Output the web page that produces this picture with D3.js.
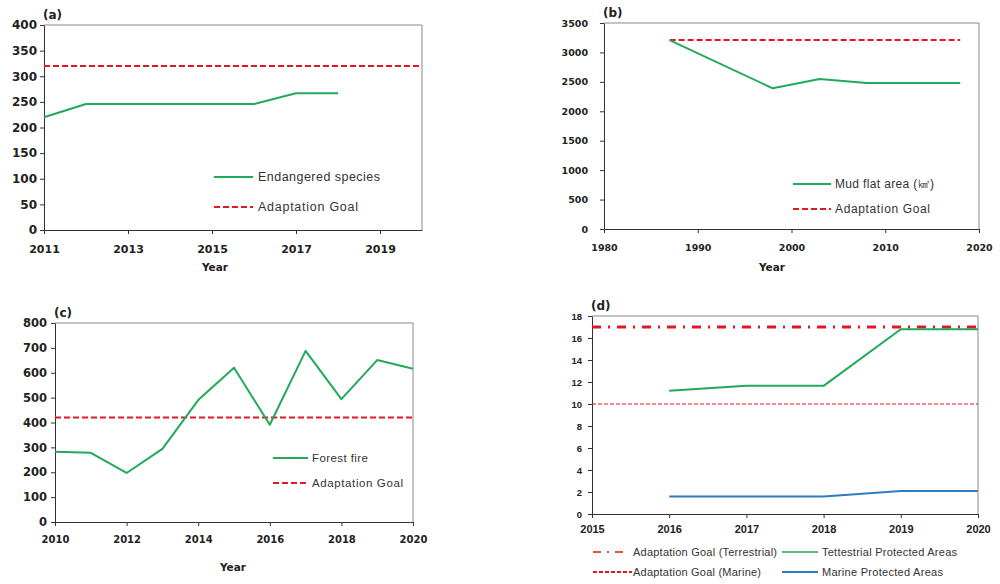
<!DOCTYPE html>
<html><head><meta charset="utf-8">
<script src="https://cdn.jsdelivr.net/npm/d3@7"></script>
<style>body{margin:0;background:#fff}svg{display:block}</style>
</head><body>
<svg id="c" width="1000" height="584"></svg>
<script>
// ---- data ----
const yearsA = [2011, 2012, 2013, 2014, 2015, 2016, 2017, 2018];
const endangered = [220, 246, 246, 246, 246, 246, 267, 267];
const goalA = 320;
const ticksAx = [2011, 2013, 2015, 2017, 2019];
const ticksAy = [0, 50, 100, 150, 200, 250, 300, 350, 400];

const yearsB = [1987, 1998, 2003, 2008, 2013, 2018];
const mudflat = [3210, 2390, 2550, 2480, 2480, 2480];
const goalB = 3210;
const goalBYears = [1987, 2018];
const ticksBx = [1980, 1990, 2000, 2010, 2020];
const ticksBy = [0, 500, 1000, 1500, 2000, 2500, 3000, 3500];

const yearsC = [2010, 2011, 2012, 2013, 2014, 2015, 2016, 2017, 2018, 2019, 2020];
const forestFire = [282, 278, 197, 294, 490, 620, 391, 688, 494, 651, 616];
const goalC = 420;
const ticksCx = [2010, 2012, 2014, 2016, 2018, 2020];
const ticksCy = [0, 100, 200, 300, 400, 500, 600, 700, 800];

const yearsD = [2016, 2017, 2018, 2019, 2020];
const terrestrial = [11.2, 11.65, 11.65, 16.8, 16.8];
const marine = [1.6, 1.6, 1.6, 2.1, 2.1];
const goalTerr = 17;
const goalMarine = 10;
const ticksDx = [2015, 2016, 2017, 2018, 2019, 2020];
const ticksDy = [0, 2, 4, 6, 8, 10, 12, 14, 16, 18];

// ---- styles ----
const GREEN = "#22a95a", RED = "#e5161f", BLUE = "#2e7dc0";
const svg = d3.select("#c");

function panel(o) {
  const g = svg.append("g");
  const x = d3.scaleLinear().domain(o.xd).range([o.l, o.r]);
  const y = d3.scaleLinear().domain(o.yd).range([o.b, o.t]);
  // frame top/right
  g.append("path").attr("d", `M${o.l},${o.t}H${o.r}V${o.b}`).attr("fill", "none")
    .attr("stroke", "#8a8a8a").attr("stroke-width", 1);
  const ya = g.append("g").attr("transform", `translate(${o.l},0)`)
    .call(d3.axisLeft(y).tickValues(o.yt).tickSize(4).tickSizeOuter(0).tickPadding(o.ypad).tickFormat(d3.format("d")));
  ya.selectAll("text").attr("font-family", o.tickFont).attr("font-weight", "bold").attr("font-size", o.yfs).attr("fill", "#222");
  const xa = g.append("g").attr("transform", `translate(0,${o.b})`)
    .call(d3.axisBottom(x).tickValues(o.xt).tickSize(4).tickSizeOuter(0).tickPadding(o.xpad).tickFormat(d3.format("d")));
  xa.selectAll("text").attr("font-family", o.tickFont).attr("font-weight", "bold").attr("font-size", o.xfs).attr("fill", "#222");
  [ya, xa].forEach(a => { a.selectAll("path,line").attr("stroke", "#333"); });
  // title
  g.append("text").attr("x", o.l - 1).attr("y", o.t - 6).text(o.title)
    .attr("font-family", "DejaVu Sans").attr("font-weight", "bold").attr("font-size", 12).attr("fill", "#222");
  if (o.xlabel) {
    g.append("text").attr("x", o.xlx).attr("y", o.xly).attr("text-anchor", "middle").text(o.xlabel)
      .attr("font-family", "DejaVu Sans").attr("font-weight", "bold").attr("font-size", 10.5).attr("fill", "#222");
  }
  return {g, x, y};
}

function line(p, xs, ys, color, width, dash) {
  const pts = xs.map((d, i) => [p.x(d), p.y(ys[i])]);
  p.g.append("path").attr("d", d3.line()(pts)).attr("fill", "none").attr("stroke", color)
    .attr("stroke-width", width).attr("stroke-dasharray", dash || null).attr("stroke-linejoin", "round");
}

function legendItem(g, x1, x2, y, color, width, dash, label, tx, tlen, fs) {
  g.append("line").attr("x1", x1).attr("x2", x2).attr("y1", y).attr("y2", y)
    .attr("stroke", color).attr("stroke-width", width).attr("stroke-dasharray", dash || null);
  g.append("text").attr("x", tx).attr("y", y).attr("dy", "0.35em").text(label)
    .attr("font-family", "Liberation Sans").attr("font-size", fs).attr("fill", "#333")
    .attr("textLength", tlen).attr("lengthAdjust", "spacing");
}

// (a)
const pa = panel({l: 44, r: 422, t: 25, b: 230, xd: [2011, 2020], yd: [0, 400], xt: ticksAx, yt: ticksAy,
  ypad: 3, xpad: 11, yfs: 12, xfs: 11, tickFont: "DejaVu Sans", title: "(a)", xlabel: "Year", xlx: 215, xly: 271});
line(pa, [2011, 2020], [goalA, goalA], RED, 2, "6,3");
line(pa, yearsA, endangered, GREEN, 2);
legendItem(pa.g, 214, 253, 177, GREEN, 2, null, "Endangered species", 258, 122, 12.5);
legendItem(pa.g, 214, 253, 207, RED, 2, "6,3", "Adaptation Goal", 258, 100, 12.5);

// (b)
const pb = panel({l: 604, r: 979, t: 23, b: 229, xd: [1980, 2020], yd: [0, 3500], xt: ticksBx, yt: ticksBy,
  ypad: 12, xpad: 11, yfs: 9.5, xfs: 9.5, tickFont: "DejaVu Sans", title: "(b)", xlabel: "Year", xlx: 772, xly: 271});
line(pb, goalBYears, [goalB, goalB], RED, 2, "6,3");
line(pb, yearsB, mudflat, GREEN, 2);
legendItem(pb.g, 793, 831, 184, GREEN, 2, null, "Mud flat area (㎢)", 835, 99, 12);
legendItem(pb.g, 793, 831, 209, RED, 2, "6,3", "Adaptation Goal", 835, 95, 12);

// (c)
const pc = panel({l: 55, r: 413, t: 323, b: 522, xd: [2010, 2020], yd: [0, 800], xt: ticksCx, yt: ticksCy,
  ypad: 4, xpad: 10, yfs: 11.5, xfs: 10, tickFont: "DejaVu Sans", title: "(c)", xlabel: "Year", xlx: 233, xly: 571});
line(pc, [2010, 2020], [goalC, goalC], RED, 2, "6,3");
line(pc, yearsC, forestFire, GREEN, 2);
legendItem(pc.g, 273, 308, 458, GREEN, 2, null, "Forest fire", 312, 56, 11.5);
legendItem(pc.g, 273, 308, 483, RED, 2, "6,3", "Adaptation Goal", 312, 91, 11.5);

// (d)
const pd = panel({l: 592, r: 978, t: 316, b: 514, xd: [2015, 2020], yd: [0, 18], xt: ticksDx, yt: ticksDy,
  ypad: 6, xpad: 7, yfs: 9.5, xfs: 11, tickFont: "Liberation Sans", title: "(d)"});
line(pd, [2015, 2020], [goalMarine, goalMarine], RED, 1, "4,2");
line(pd, [2015, 2020], [goalTerr, goalTerr], RED, 3, "9,7,2,7");
line(pd, yearsD, terrestrial, GREEN, 2);
line(pd, yearsD, marine, BLUE, 2);
legendItem(pd.g, 593, 625, 552, RED, 1.5, "8,6,2,6", "Adaptation Goal (Terrestrial)", 633, 144, 11);
legendItem(pd.g, 782, 818, 552, GREEN, 1.5, null, "Tettestrial Protected Areas", 822, 135, 11);
legendItem(pd.g, 593, 632, 572, RED, 2, "4,2", "Adaptation Goal (Marine)", 633, 128, 11);
legendItem(pd.g, 782, 818, 572, BLUE, 2, null, "Marine Protected Areas", 822, 121, 11);
</script>
</body></html>
